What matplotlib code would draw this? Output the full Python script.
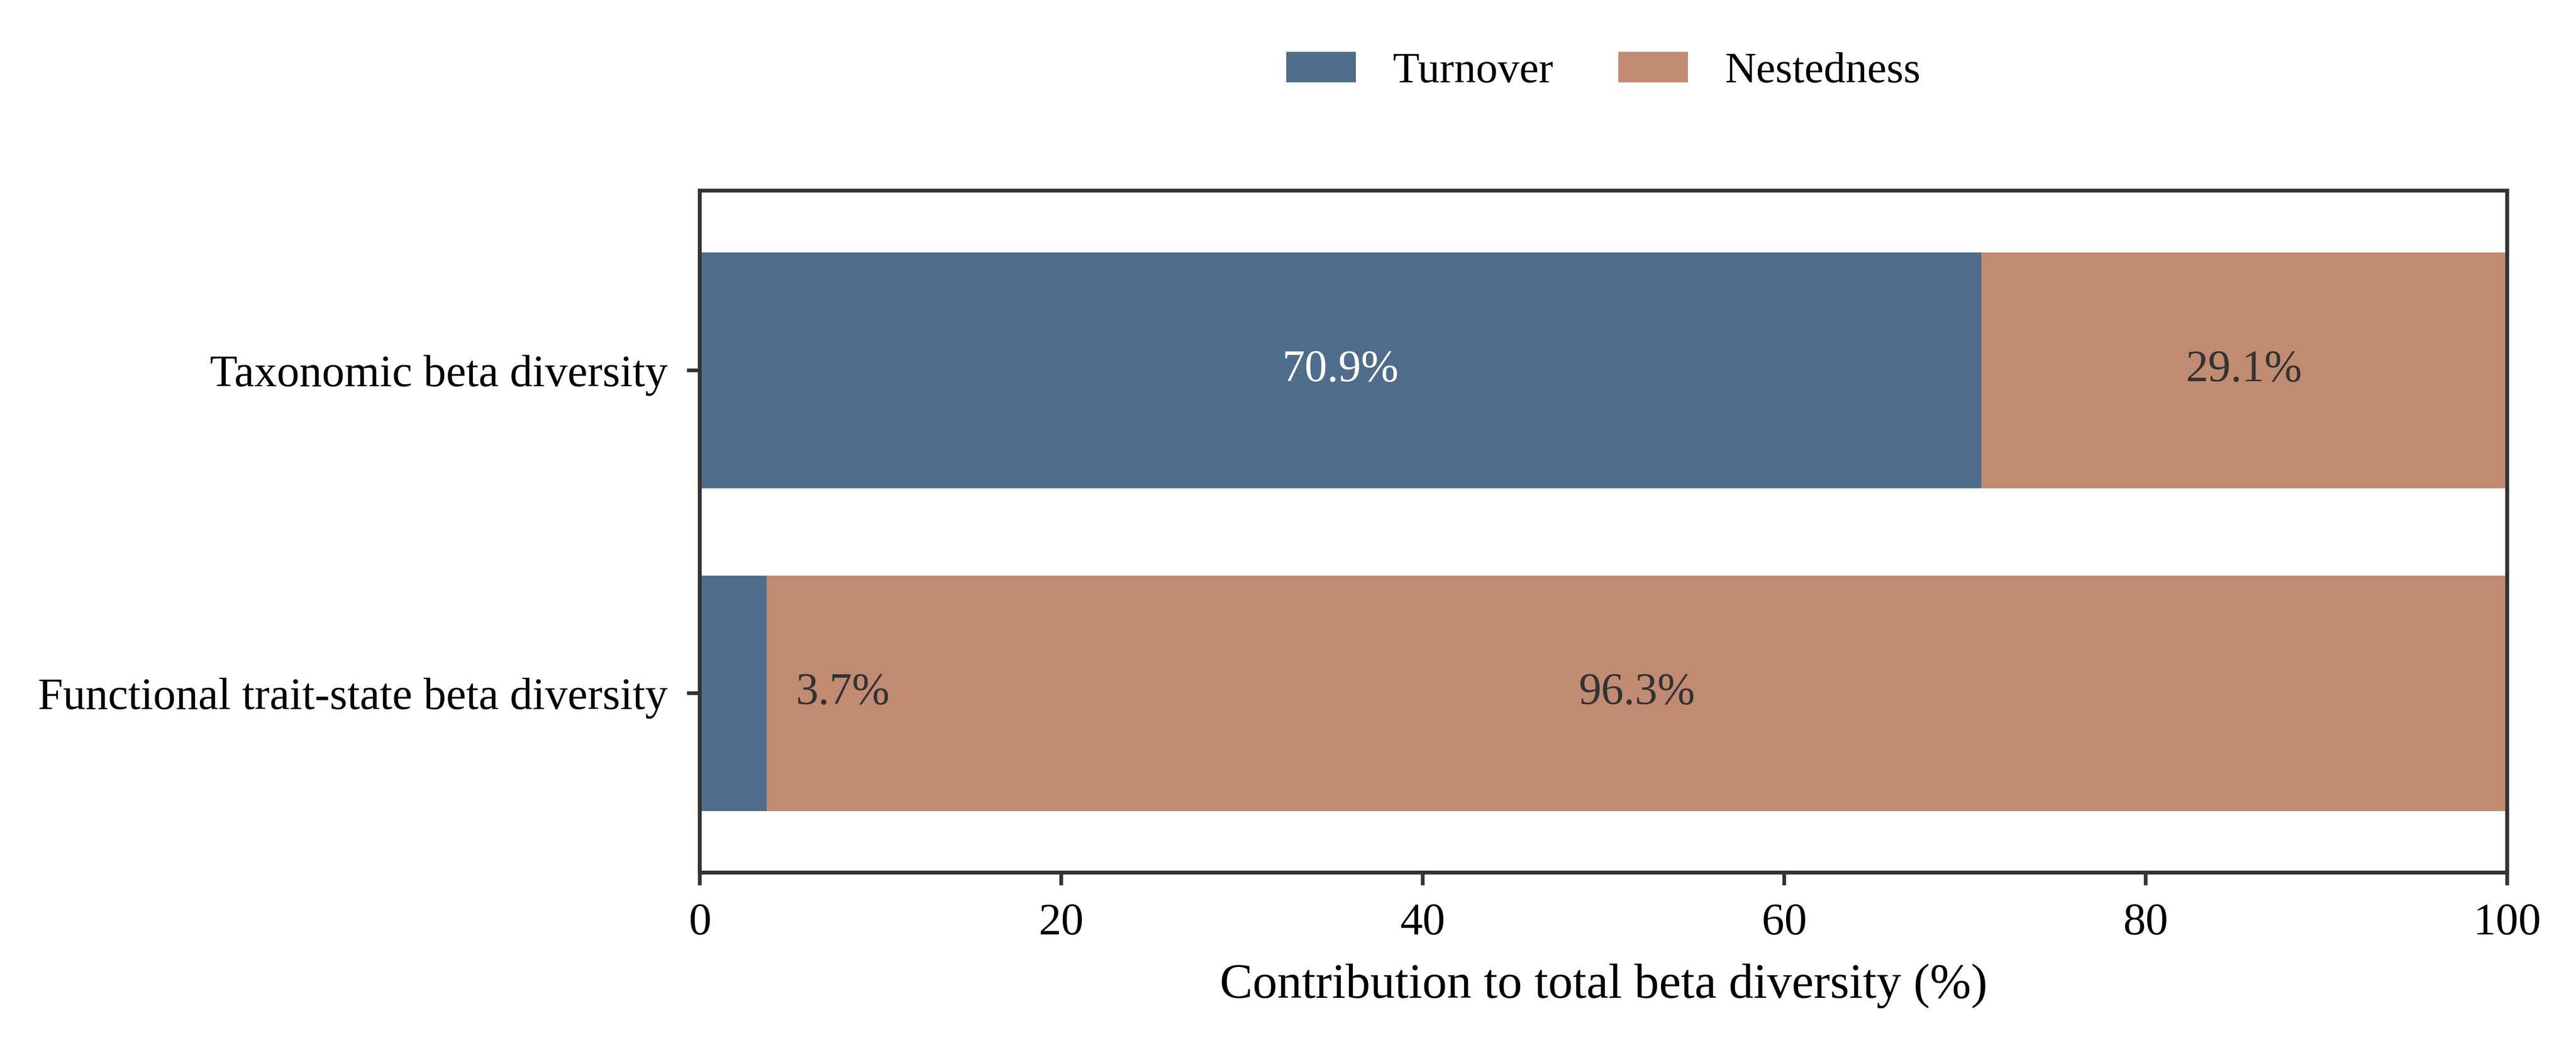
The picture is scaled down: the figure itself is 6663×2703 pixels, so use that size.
import matplotlib
matplotlib.use('Agg')
import matplotlib.pyplot as plt
import numpy as np

# data
categories = ['Functional trait-state beta diversity', 'Taxonomic beta diversity']
turnover = [3.7, 70.9]
nestedness = [96.3, 29.1]

COL_TURN = '#4f6d8a'
COL_NEST = '#c18b72'
DARK = '#333333'

plt.rcParams.update({
    'font.family': ['Liberation Serif', 'DejaVu Serif'],
    'font.size': 14,
    'axes.edgecolor': DARK,
    'axes.linewidth': 1.2,
    'xtick.color': DARK,
    'ytick.color': DARK,
    'xtick.labelcolor': 'black',
    'ytick.labelcolor': 'black',
    'xtick.major.size': 4,
    'ytick.major.size': 4,
    'xtick.major.width': 1.15,
    'ytick.major.width': 1.15,
})

fig = plt.figure(figsize=(6663 / 600, 2703 / 600))
ax = fig.add_axes([0.2717, 0.165, 0.9733 - 0.2717, 0.8176 - 0.165])

y = np.arange(len(categories))
h = 0.73
ax.barh(y, turnover, height=h, color=COL_TURN, label='Turnover')
ax.barh(y, nestedness, left=turnover, height=h, color=COL_NEST, label='Nestedness')

for yi, t, n in zip(y, turnover, nestedness):
    if t >= 10:
        ax.text(t / 2, yi, f'{t:.1f}%', ha='center', va='center', color='white', fontsize=14)
    else:
        ax.text(t + 1.6, yi, f'{t:.1f}%', ha='left', va='center', color=DARK, fontsize=14)
    ax.text(t + n / 2, yi, f'{n:.1f}%', ha='center', va='center', color=DARK, fontsize=14)

ax.set_yticks(y)
ax.set_yticklabels(categories, fontsize=14)
ax.set_xlim(0, 100)
ax.set_ylim(-0.555, 1.557)
ax.set_xticks([0, 20, 40, 60, 80, 100])
ax.tick_params(axis='x', labelsize=14, pad=5.5)
ax.tick_params(axis='y', pad=6)
ax.set_xlabel('Contribution to total beta diversity (%)', fontsize=15.3, labelpad=6)

ax.legend(loc='lower center', bbox_to_anchor=(0.5, 1.088), ncol=2, frameon=False,
          fontsize=13.5, handlelength=1.6, columnspacing=1.5, handletextpad=0.85)

fig.savefig('out.png', dpi=600)
